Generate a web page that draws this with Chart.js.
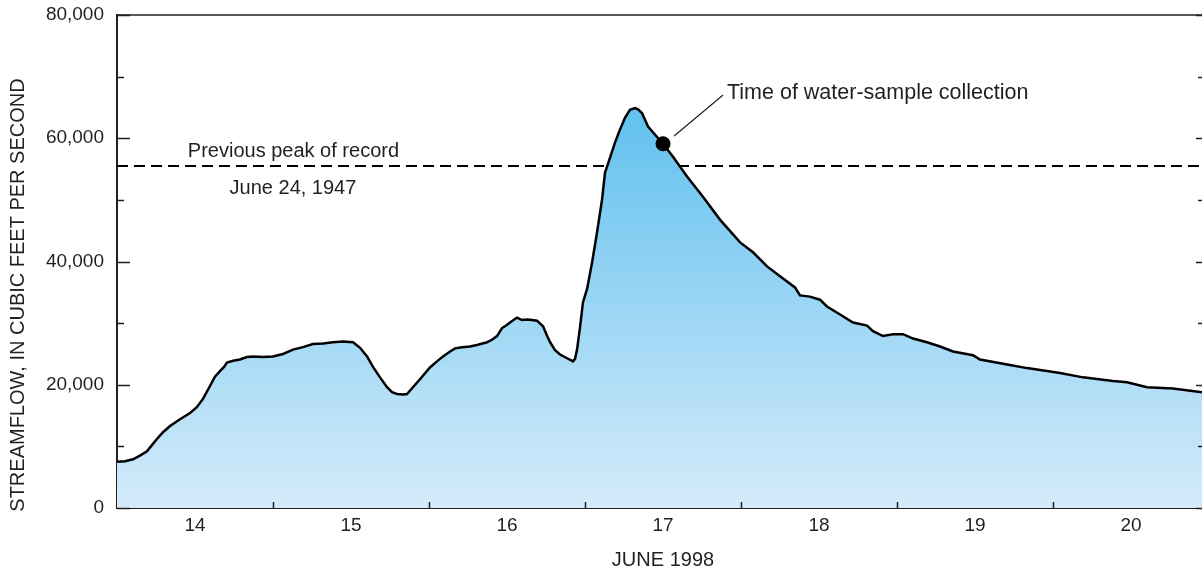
<!DOCTYPE html>
<html><head><meta charset="utf-8">
<script src="https://cdn.jsdelivr.net/npm/chart.js@4.4.0/dist/chart.umd.min.js"></script>
<style>html,body{margin:0;padding:0;background:#fff;}canvas{display:block;}</style>
</head><body>
<canvas id="c" width="1202" height="570"></canvas>
<script>
// Time as decimal day of June 1998 (14.0 = start of June 14)
const days = [14.000,14.051,14.103,14.147,14.192,14.224,14.256,14.295,14.340,14.404,14.468,14.513,14.551,14.596,14.628,14.660,14.686,14.705,14.744,14.788,14.833,14.872,14.936,
15.000,15.064,15.128,15.192,15.256,15.321,15.385,15.449,15.513,15.558,15.603,15.641,15.686,15.731,15.763,15.795,15.833,15.859,15.897,15.942,
16.006,16.051,16.090,16.135,16.167,16.212,16.263,16.314,16.372,16.404,16.436,16.468,16.494,16.519,16.564,16.596,16.628,16.660,16.692,16.731,16.756,16.776,16.808,16.840,16.885,16.923,16.936,16.949,16.968,16.987,
17.013,17.045,17.077,17.109,17.128,17.160,17.192,17.224,17.256,17.288,17.321,17.340,17.365,17.404,17.462,17.500,17.564,17.654,17.756,17.865,17.994,
18.077,18.167,18.250,18.346,18.378,18.442,18.506,18.551,18.635,18.718,18.808,18.846,18.910,18.974,
19.038,19.103,19.192,19.276,19.359,19.487,19.532,19.724,19.833,
20.045,20.192,20.385,20.474,20.603,20.769,20.955];
// Streamflow, cubic feet per second
const flow = [7500,7600,7900,8500,9200,10200,11200,12300,13300,14400,15400,16400,17700,19800,21300,22200,22900,23600,23900,24100,24500,24600,24500,
24600,25000,25700,26100,26600,26700,26900,27000,26900,26000,24600,22900,21200,19600,18800,18500,18400,18500,19600,20900,
22800,23800,24600,25400,25900,26100,26200,26500,26900,27300,27900,29200,29600,30100,30900,30500,30600,30500,30400,29500,28000,26900,25600,24900,24300,23800,24200,25700,29300,33400,
35500,39800,44700,50000,54400,56800,59300,61400,63300,64600,64900,64700,64100,61900,60200,59100,57000,53800,50500,46800,43100,
41500,39200,37600,35800,34500,34300,33800,32700,31400,30100,29600,28700,27900,28200,
28200,27500,26900,26200,25400,24800,24100,23200,22700,
21900,21200,20600,20400,19600,19400,18800];
const dayLabels = [14,15,16,17,18,19,20];
const yLabelTicks = [0,20000,40000,60000,80000];
const yMinorTicks = [10000,30000,50000,70000];
const previousPeak = 55500;
const sampleDay = 17.5, sampleFlow = 59100;
const xMin = 14, xMax = 20.955;

const INK = '#231f20';
const FONT = "'Liberation Sans', Arial, Helvetica, sans-serif";

const flowPoints = days.map((d,i)=>({x:d, y:flow[i]}));
const peakLine = [{x:xMin, y:previousPeak},{x:xMax, y:previousPeak}];

const annotations = {
  prev1: {text:'Previous peak of record', x:15.131, y:57000, align:'center', size:20},
  prev2: {text:'June 24, 1947', x:15.128, y:50950, align:'center', size:20},
  sample: {text:'Time of water-sample collection', x:17.910, y:66370, align:'left', size:21.5},
  leader: {x1:17.571, y1:60364, x2:17.885, y2:67018}
};

const decor = {
  id:'decor',
  afterDatasetsDraw(chart){
    const ctx = chart.ctx, xs = chart.scales.x, ys = chart.scales.y, ca = chart.chartArea;
    ctx.save();
    ctx.strokeStyle = INK; ctx.fillStyle = INK;
    // top frame line
    ctx.lineWidth = 1.5;
    ctx.beginPath(); ctx.moveTo(ca.left, ca.top); ctx.lineTo(ca.right, ca.top); ctx.stroke();
    // inward day-boundary ticks on the bottom axis
    ctx.lineWidth = 1.5;
    for (let i=1;i<dayLabels.length;i++){
      const px = Math.round(xs.getPixelForValue(dayLabels[i]))+0.5;
      ctx.beginPath(); ctx.moveTo(px, ca.bottom); ctx.lineTo(px, ca.bottom-6); ctx.stroke();
    }
    // inward y ticks left and right
    yLabelTicks.concat(yMinorTicks).forEach(v=>{
      const major = yLabelTicks.includes(v);
      const py = Math.round(ys.getPixelForValue(v))+0.5;
      ctx.beginPath(); ctx.moveTo(ca.left, py); ctx.lineTo(ca.left+(major?13:7), py); ctx.stroke();
      ctx.beginPath(); ctx.moveTo(ca.right, py); ctx.lineTo(ca.right-(major?6:4), py); ctx.stroke();
    });
    // leader line
    const L = annotations.leader;
    ctx.lineWidth = 1.2;
    ctx.beginPath();
    ctx.moveTo(xs.getPixelForValue(L.x1), ys.getPixelForValue(L.y1));
    ctx.lineTo(xs.getPixelForValue(L.x2), ys.getPixelForValue(L.y2));
    ctx.stroke();
    // annotation texts
    ctx.textBaseline = 'alphabetic';
    ['prev1','prev2','sample'].forEach(k=>{
      const a = annotations[k];
      ctx.font = a.size + 'px ' + FONT;
      ctx.textAlign = a.align;
      ctx.fillText(a.text, xs.getPixelForValue(a.x), ys.getPixelForValue(a.y));
    });
    // axis titles
    ctx.font = '20px ' + FONT;
    ctx.textAlign = 'center';
    ctx.fillText('JUNE 1998', xs.getPixelForValue(17.5), 566);
    ctx.save();
    ctx.translate(24, 295);
    ctx.rotate(-Math.PI/2);
    ctx.fillText('STREAMFLOW, IN CUBIC FEET PER SECOND', 0, 0);
    ctx.restore();
    ctx.restore();
  }
};

new Chart(document.getElementById('c'), {
  type:'line',
  data:{
    datasets:[
      { label:'Sample', data:[{x:sampleDay, y:sampleFlow}], showLine:false,
        pointRadius:7.5, pointBackgroundColor:'#000', pointBorderColor:'#000', pointBorderWidth:0 },
      { label:'Streamflow', data:flowPoints, borderColor:'#000', borderWidth:2.5, tension:0,
        pointRadius:0, fill:'origin',
        backgroundColor:(c)=>{
          const ca = c.chart.chartArea;
          if(!ca) return 'rgb(150,210,243)';
          const g = c.chart.ctx.createLinearGradient(0, ca.top, 0, ca.bottom);
          g.addColorStop(0,'rgb(70,183,236)');
          g.addColorStop(1,'rgb(213,235,250)');
          return g;
        } },
      { label:'Previous peak', data:peakLine, borderColor:'#000', borderWidth:2,
        borderDash:[11,6], pointRadius:0, fill:false }
    ]
  },
  options:{
    responsive:false, devicePixelRatio:1, animation:false,
    layout:{autoPadding:false, padding:{top:15,right:0,left:0,bottom:0}},
    plugins:{legend:{display:false}, tooltip:{enabled:false}},
    scales:{
      x:{ type:'linear', min:xMin, max:xMax, z:1,
        grid:{display:false, drawTicks:false},
        border:{display:true, color:INK, width:2},
        afterBuildTicks:(s)=>{ s.ticks = dayLabels.map(d=>({value:d+0.5})); },
        ticks:{ autoSkip:false, maxRotation:0, padding:6, color:INK,
          font:{family:FONT, size:19},
          callback:(v,i)=>String(dayLabels[i]) },
        afterFit:(s)=>{ s.height = 62; s.paddingLeft = 0; s.paddingRight = 0; }
      },
      y:{ min:0, max:80000, z:1,
        grid:{display:false, drawTicks:false},
        border:{display:true, color:INK, width:2},
        afterBuildTicks:(s)=>{ s.ticks = yLabelTicks.map(v=>({value:v})); },
        ticks:{ padding:13, color:INK, font:{family:FONT, size:19},
          callback:(v)=>Number(v).toLocaleString('en-US') },
        afterFit:(s)=>{ s.width = 117; s.paddingTop = 0; s.paddingBottom = 0; }
      }
    }
  },
  plugins:[decor]
});
</script>
</body></html>
